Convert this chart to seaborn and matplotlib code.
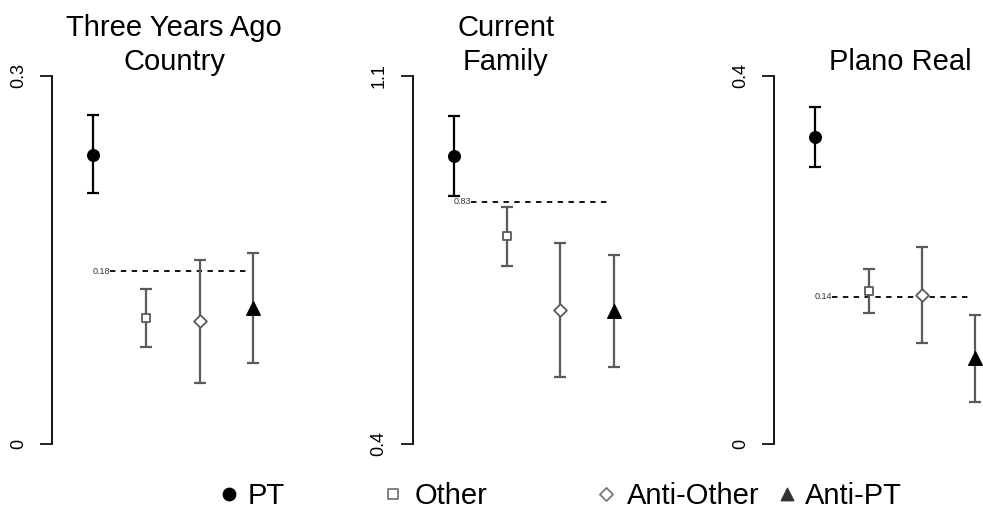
import matplotlib
matplotlib.use("Agg")
import matplotlib.pyplot as plt
import numpy as np
import pandas as pd
import seaborn as sns

# ---------------------------------------------------------------------------
# Data
# ---------------------------------------------------------------------------
groups = ["PT", "Other", "Anti-Other", "Anti-PT"]
positions = [1, 2, 3, 4]

titles = ["Three Years Ago\nCountry", "Current\nFamily", "Plano Real"]

means = [
    [0.236, 0.103, 0.100, 0.111],
    [0.947, 0.795, 0.655, 0.653],
    [0.334, 0.166, 0.162, 0.094],
]
lows = [
    [0.205, 0.079, 0.050, 0.066],
    [0.872, 0.739, 0.527, 0.547],
    [0.301, 0.142, 0.110, 0.046],
]
highs = [
    [0.268, 0.126, 0.150, 0.156],
    [1.023, 0.851, 0.782, 0.760],
    [0.366, 0.190, 0.214, 0.140],
]

ref_values = [0.141, 0.861, 0.160]
ref_labels = ["0.18", "0.83", "0.14"]

y_limits = [(0.0, 0.3), (0.4, 1.1), (0.0, 0.4)]
y_ticklabels = [["0", "0.3"], ["0.4", "1.1"], ["0", "0.4"]]

# ---------------------------------------------------------------------------
# Styles
# ---------------------------------------------------------------------------
GRAY = "#5a5a5a"
marker_style = {
    "PT": dict(marker="o", s=70, facecolor="black", edgecolor="black", linewidth=1),
    "Other": dict(marker="s", s=40, facecolor="white", edgecolor=GRAY, linewidth=1.3),
    "Anti-Other": dict(marker="D", s=42, facecolor="white", edgecolor=GRAY, linewidth=1.3),
    "Anti-PT": dict(marker="^", s=95, facecolor="black", edgecolor="black", linewidth=1),
}
err_color = {"PT": "black", "Other": GRAY, "Anti-Other": GRAY, "Anti-PT": GRAY}

sns.set_theme(style="white")
plt.rcParams["font.family"] = ["Liberation Sans", "DejaVu Sans"]
plt.rcParams["text.color"] = "black"

W, H = 983, 509
fig = plt.figure(figsize=(W / 100, H / 100), dpi=100)

axis_left_px = [52, 412.7, 774.3]
axes_width_px = 210
px_per_unit = 53.3
x_left = 1 - 41 / px_per_unit
title_x = [0.581, 0.443, 0.60]
REF_SPAN = (1.32, 3.9)

for i in range(3):
    ax = fig.add_axes([axis_left_px[i] / W, 65 / H, axes_width_px / W, 368 / H])
    df = pd.DataFrame({
        "group": groups,
        "pos": positions,
        "mean": means[i],
        "lo": lows[i],
        "hi": highs[i],
    })

    for _, row in df.iterrows():
        ax.errorbar(
            row["pos"], row["mean"],
            yerr=[[row["mean"] - row["lo"]], [row["hi"] - row["mean"]]],
            fmt="none", ecolor=err_color[row["group"]],
            elinewidth=1.6, capsize=4.5, capthick=1.6, zorder=2, clip_on=False,
        )

    # reference line with its small label
    ax.plot(REF_SPAN, [ref_values[i]] * 2, color="black", lw=1.3,
            linestyle=(0, (3, 3)), zorder=1)
    ax.text(REF_SPAN[0], ref_values[i], ref_labels[i], ha="right", va="center",
            fontsize=6.5, color="#333333")

    for g in groups:
        sns.scatterplot(data=df[df["group"] == g], x="pos", y="mean", ax=ax,
                        zorder=3, clip_on=False, legend=False, **marker_style[g])

    ax.set_xlim(x_left, x_left + axes_width_px / px_per_unit)
    ax.set_ylim(*y_limits[i])
    ax.set_xlabel("")
    ax.set_ylabel("")
    ax.set_xticks([])
    ax.set_yticks(list(y_limits[i]))
    ax.set_yticklabels(y_ticklabels[i], rotation=90, va="center")
    ax.tick_params(axis="y", left=True, length=9, width=1.2, pad=9,
                   labelsize=13, color="black", labelcolor="black")
    for side in ["top", "right", "bottom"]:
        ax.spines[side].set_visible(False)
    ax.spines["left"].set_color("black")
    ax.spines["left"].set_linewidth(1.3)
    ax.spines["left"].set_bounds(*y_limits[i])
    ax.set_facecolor("none")
    ax.set_title(titles[i], x=title_x[i], fontsize=21, pad=0, linespacing=1.25,
                 color="black")

# ---------------------------------------------------------------------------
# Legend along the bottom (pixel-coordinate overlay)
# ---------------------------------------------------------------------------
lax = fig.add_axes([0, 0, 1, 1], zorder=-1)
lax.set_xlim(0, W)
lax.set_ylim(H, 0)
lax.axis("off")
legend_marker_x = [229, 393, 606, 787]
legend_text_x = [248, 415, 627, 805]
legend_style = {
    "PT": dict(marker="o", s=80, facecolor="black", edgecolor="black"),
    "Other": dict(marker="s", s=45, facecolor="white", edgecolor="#777777", linewidth=1.3),
    "Anti-Other": dict(marker="D", s=45, facecolor="white", edgecolor="#777777", linewidth=1.3),
    "Anti-PT": dict(marker="^", s=80, facecolor="#333333", edgecolor="#333333"),
}
for g, mx, tx in zip(groups, legend_marker_x, legend_text_x):
    lax.scatter([mx], [494], **legend_style[g])
    lax.text(tx, 496.5, g, fontsize=21, ha="left", va="center", color="black")

fig.savefig("out.png", dpi=100)
